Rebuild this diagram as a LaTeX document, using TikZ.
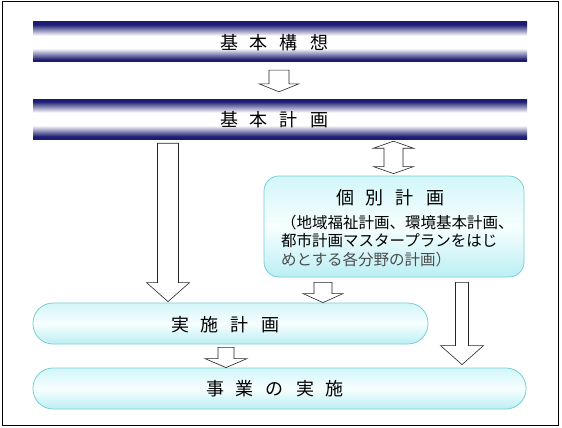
\documentclass[tikz,border=0pt]{standalone}
\usepackage{fontspec}
\setmainfont{Noto Sans CJK JP}
\usetikzlibrary{calc}
\definecolor{navyc}{HTML}{1C1C72}
\definecolor{cyb}{HTML}{78CFD2}
\definecolor{cyt}{HTML}{D2F6F9}
\definecolor{cym}{HTML}{F7FEFF}
\definecolor{cyd}{HTML}{BBEFF3}
\pgfdeclareverticalshading{barshade}{100bp}{color(0bp)=(navyc); color(25bp)=(navyc); color(28bp)=(navyc); color(42bp)=(white); color(58bp)=(white); color(72bp)=(navyc); color(75bp)=(navyc); color(100bp)=(navyc)}
\newcommand\gp{\hspace{12pt}}
\newcommand\blkarrow[5]{\draw[blk] let \p1=(#1), \p2=(#2) in (\x1-#3,\y1) -- (\x1+#3,\y1) -- (\x1+#3,\y2+#5) -- (\x1+#4,\y2+#5) -- (\x1,\y2) -- (\x1-#4,\y2+#5) -- (\x1-#3,\y2+#5) -- cycle;}
\tikzset{
  bar/.style={rectangle, shade, shading=barshade, minimum width=494pt, minimum height=40pt, inner sep=0pt},
  rbox/.style={rectangle, draw=cyb, line width=0.8pt, top color=cyt, bottom color=cyd, middle color=cym, inner sep=0pt},
  blk/.style={draw=black!85, fill=white, line width=0.6pt, line join=miter},
  ttl/.style={font=\fontsize{18}{21}\selectfont, inner sep=0pt},
  sub/.style={font=\fontsize{15.5}{18.5}\selectfont, inner sep=0pt, align=left, anchor=west},
  frame/.style={draw=black, line width=1pt}
}
\begin{document}
\begin{tikzpicture}[x=1pt, y=-1pt]
\useasboundingbox (0,0) rectangle (562,428);
\draw[frame] (2.5,2) rectangle (558.5,425);
% bars
\node[bar] (bar1) at (280,42) {};
\node[bar] (bar2) at (280,119) {};
\node[ttl] (t1) at (274,43) {基\gp 本\gp 構\gp 想};
\node[ttl] (t2) at (274,120) {基\gp 本\gp 計\gp 画};
% rounded boxes
\node[rbox, rounded corners=15pt, minimum width=260pt, minimum height=101pt] (kob) at (394,226.5) {};
\node[rbox, rounded corners=20pt, minimum width=395pt, minimum height=41pt] (jis) at (230.5,323.5) {};
\node[rbox, rounded corners=20pt, minimum width=493pt, minimum height=41pt] (jig) at (279.5,388.5) {};
\node[ttl] (t3) at (390,198) {個\gp 別\gp 計\gp 画};
\node[sub] (t4) at (281,241) {（地域福祉計画、環境基本計画、\\都市計画マスタープランをはじ\\\textcolor{black!70}{めとする各分野の計画）}};
\node[ttl] (t5) at (225,325) {実\gp 施\gp 計\gp 画};
\node[ttl] (t6) at (275,389) {事\gp 業\gp の\gp 実\gp 施};
% arrow anchor coordinates
\coordinate (a1s) at ($(bar1.south)+(-1,8)$);
\coordinate (a1e) at ($(bar2.north)+(-1,-7)$);
\coordinate (a2s) at ($(bar2.south)+(-112,4)$);
\coordinate (a2e) at ($(jis.north)+(-62.5,-1)$);
\coordinate (a4s) at ($(kob.south)+(-71,5)$);
\coordinate (a4e) at ($(jis.north)+(92.5,0)$);
\coordinate (a5s) at ($(kob.south)+(68,5)$);
\coordinate (a5e) at ($(jig.north)+(182.5,-3)$);
\coordinate (a6s) at ($(jis.south)+(-4.5,3)$);
\coordinate (a6e) at ($(jig.north)+(-53.5,0)$);
\coordinate (a3t) at ($(bar2.south)+(113.5,2)$);
\coordinate (a3b) at ($(kob.north)+(-0.5,-2)$);
% block arrows
\blkarrow{a1s}{a1e}{10pt}{20pt}{8pt}
\blkarrow{a2s}{a2e}{10.5pt}{21.5pt}{19pt}
\blkarrow{a4s}{a4e}{9pt}{20pt}{9pt}
\blkarrow{a5s}{a5e}{6.5pt}{21.5pt}{19pt}
\blkarrow{a6s}{a6e}{8pt}{21pt}{9pt}
\draw[blk] let \p1=(a3t), \p2=(a3b) in
  (\x1,\y1) -- (\x1+20pt,\y1-7pt) -- (\x1+9.5pt,\y1-7pt) -- (\x1+9.5pt,\y2+7pt) -- (\x1+20pt,\y2+7pt)
  -- (\x1,\y2) -- (\x1-20pt,\y2+7pt) -- (\x1-9.5pt,\y2+7pt) -- (\x1-9.5pt,\y1-7pt) -- (\x1-20pt,\y1-7pt) -- cycle;
\end{tikzpicture}
\end{document}
